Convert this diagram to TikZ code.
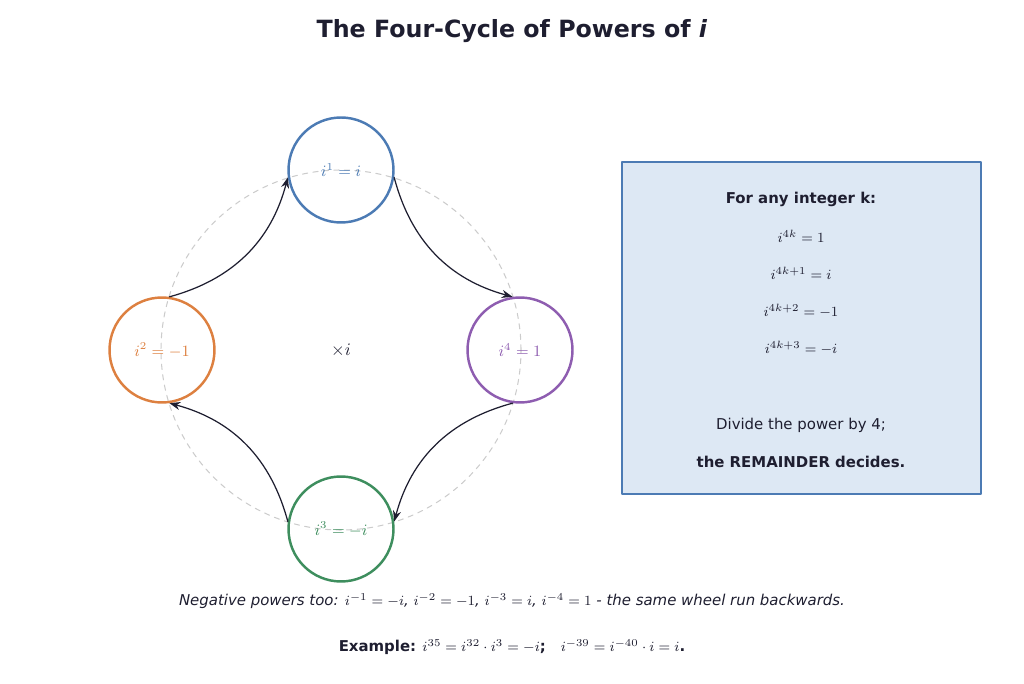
\documentclass[tikz,border=0pt]{standalone}
\usepackage{fontspec}
\setmainfont{DejaVu Sans}
\usetikzlibrary{arrows.meta}
\definecolor{cblue}{HTML}{4C7BB4}
\definecolor{corange}{HTML}{DD8040}
\definecolor{cpurple}{HTML}{8E5DB0}
\definecolor{cgreen}{HTML}{3E8E5E}
\definecolor{boxfill}{HTML}{DDE8F4}
\definecolor{ink}{HTML}{1E1E30}
\begin{document}
\begin{tikzpicture}[x=0.02cm, y=0.02cm, line cap=round, line join=round, >=Stealth]
  % styles
  \tikzset{
    power/.style={circle, draw=#1, text=#1, line width=1.4pt, minimum size=2.1cm, inner sep=0pt, font=\fontsize{9}{11}\selectfont},
    turn/.style={->, ink, line width=0.7pt},
    boxline/.style={ink, font=\fontsize{8.5}{10}\selectfont}
  }
  \useasboundingbox (0,0) rectangle (1024,683);

  % ----- title -----
  \node[ink, font=\bfseries\fontsize{13.5}{16}\selectfont] (title) at (512,652) {The Four-Cycle of Powers of \textit{i}};

  % ----- wheel -----
  \coordinate (C) at (341,333);
  \draw[gray!40, dashed, line width=0.6pt] (C) circle[radius=180];
  \node[power=cblue]   (p1) at (341,513) {$i^1=i$};
  \node[power=corange] (p2) at (162,333) {$i^2=-1$};
  \node[power=cgreen]  (p3) at (341,154) {$i^3=-i$};
  \node[power=cpurple] (p4) at (520,333) {$i^4=1$};
  \node[ink, font=\fontsize{10}{12}\selectfont] (times) at (C) {$\times i$};

  \draw[turn] (p1.-8)  to[bend right=30] (p4.98);
  \draw[turn] (p4.-98) to[bend right=30] (p3.8);
  \draw[turn] (p3.172) to[bend right=30] (p2.-82);
  \draw[turn] (p2.82)  to[bend right=30] (p1.188);

  % ----- rule box -----
  \draw[cblue, fill=boxfill, line width=1pt] (622,189) rectangle (981,521);
  \node[boxline, font=\bfseries\fontsize{8.5}{10}\selectfont] (head) at (801,484) {For any integer k:};
  \node[boxline] (r0) at (801,447) {$i^{4k}=1$};
  \node[boxline] (r1) at (801,410) {$i^{4k+1}=i$};
  \node[boxline] (r2) at (801,372) {$i^{4k+2}=-1$};
  \node[boxline] (r3) at (801,335) {$i^{4k+3}=-i$};
  \node[boxline] (div) at (801,258) {Divide the power by 4;};
  \node[boxline, font=\bfseries\fontsize{8.5}{10}\selectfont] (rem) at (801,221) {the REMAINDER decides.};

  % ----- notes -----
  \node[ink, font=\itshape\fontsize{8.5}{10}\selectfont] (neg) at (512,82)
    {Negative powers too: $i^{-1}=-i$, $i^{-2}=-1$, $i^{-3}=i$, $i^{-4}=1$ - the same wheel run backwards.};
  \node[ink, font=\fontsize{8.5}{10}\selectfont] (ex) at (512,36)
    {\textbf{Example:} $i^{35}=i^{32}\cdot i^3=-i$\textbf{;}\quad $i^{-39}=i^{-40}\cdot i=i$\textbf{.}};
\end{tikzpicture}
\end{document}
